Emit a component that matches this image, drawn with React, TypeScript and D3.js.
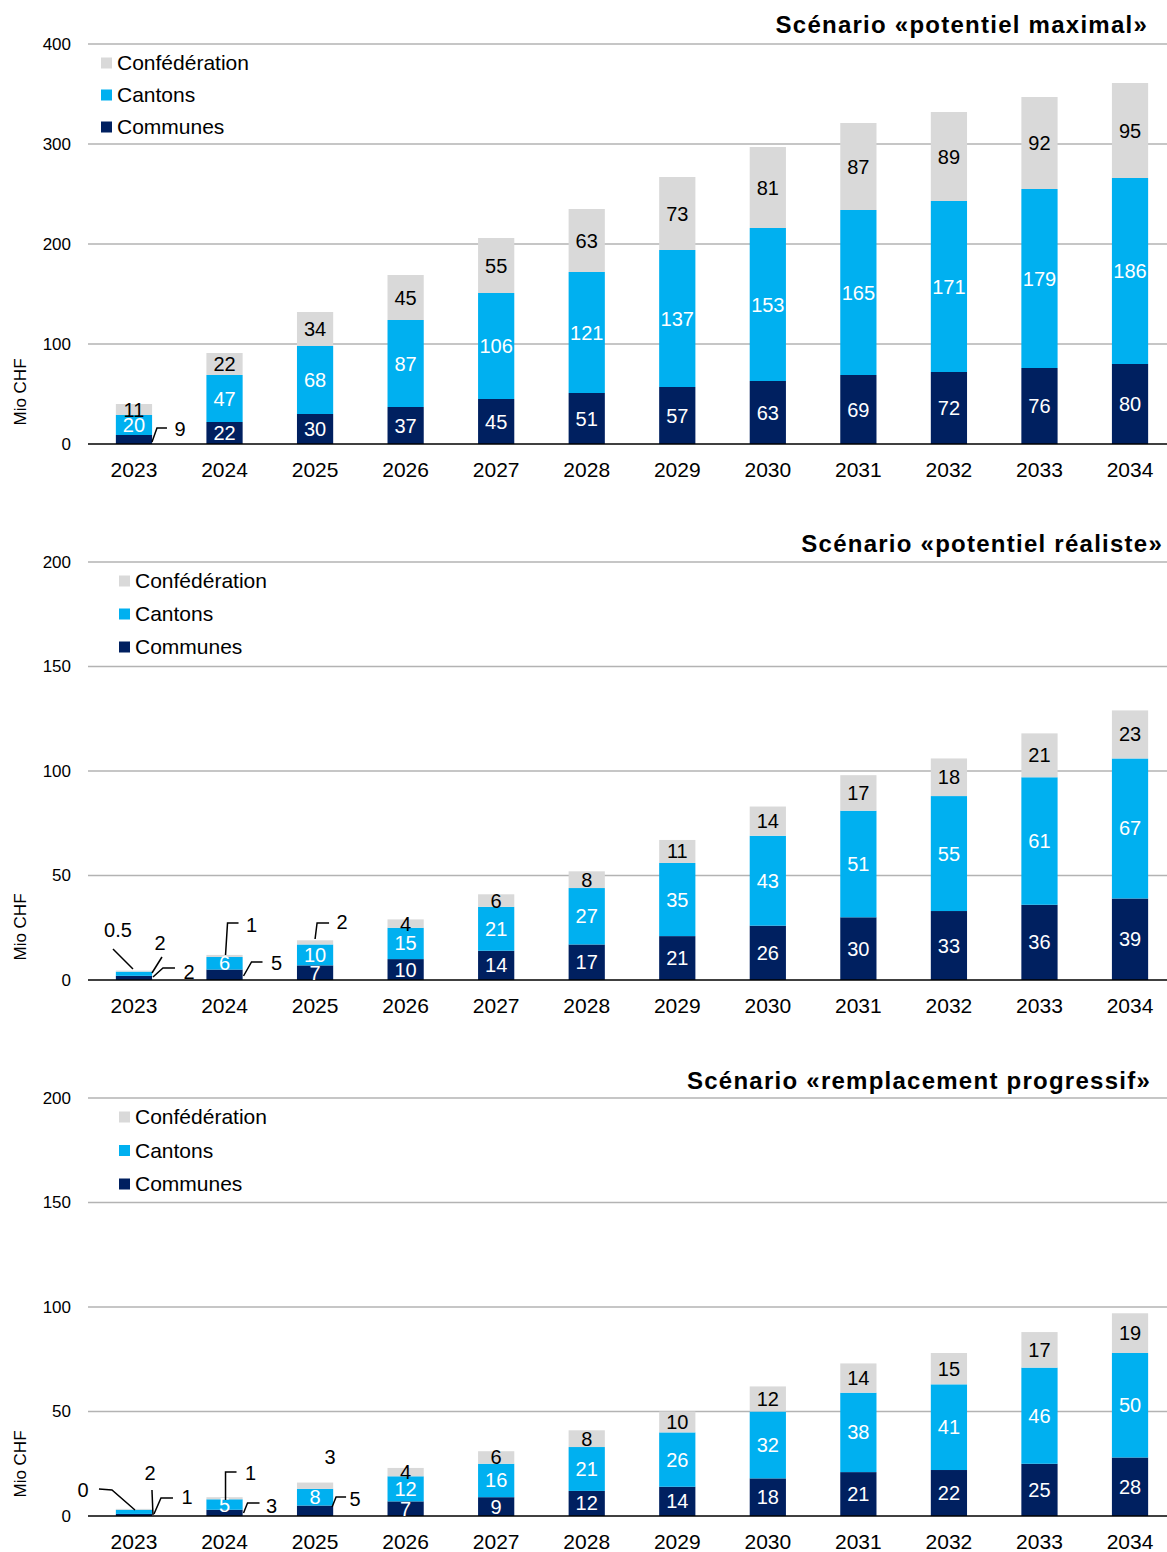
import React from "react";
import * as d3 from "d3";

const years = ["2023", "2024", "2025", "2026", "2027", "2028", "2029", "2030", "2031", "2032", "2033", "2034"];
const seriesNames = ["Confédération", "Cantons", "Communes"];

// Scénario «potentiel maximal»
const maxCommunes = [9, 22, 30, 37, 45, 51, 57, 63, 69, 72, 76, 80];
const maxCantons = [20, 47, 68, 87, 106, 121, 137, 153, 165, 171, 179, 186];
const maxConf = [11, 22, 34, 45, 55, 63, 73, 81, 87, 89, 92, 95];
const maxTicks = [0, 100, 200, 300, 400];

// Scénario «potentiel réaliste»
const realCommunes = [2, 5, 7, 10, 14, 17, 21, 26, 30, 33, 36, 39];
const realCantons = [2, 6, 10, 15, 21, 27, 35, 43, 51, 55, 61, 67];
const realConf = [0.5, 1, 2, 4, 6, 8, 11, 14, 17, 18, 21, 23];
const realTicks = [0, 50, 100, 150, 200];

// Scénario «remplacement progressif»
const progCommunes = [1, 3, 5, 7, 9, 12, 14, 18, 21, 22, 25, 28];
const progCantons = [2, 5, 8, 12, 16, 21, 26, 32, 38, 41, 46, 50];
const progConf = [0.4, 1, 3, 4, 6, 8, 10, 12, 14, 15, 17, 19];
const progTicks = [0, 50, 100, 150, 200];

const COLORS: Record<string, string> = { communes: "#002060", cantons: "#00B0F0", conf: "#D9D9D9" };
const TEXT_COLORS: Record<string, string> = { communes: "#ffffff", cantons: "#ffffff", conf: "#000000" };
const FONT = "'Liberation Sans', Arial, sans-serif";

type Callout = { year: number; key: string; text: [number, number]; path: [number, number][] };

const charts = [
  {
    title: "Scénario «potentiel maximal»",
    communes: maxCommunes, cantons: maxCantons, conf: maxConf, ticks: maxTicks, fmt: "~g",
    y0: 444, y1: 44, titleX: 1148, titleY: 33, legendX: 101, legendY: 63, legendGap: 32, ylabelY: 392,
    callouts: [
      { year: 0, key: "communes", text: [46, -15], path: [[18, -2], [23, -16], [33, -16]] },
    ] as Callout[],
  },
  {
    title: "Scénario «potentiel réaliste»",
    communes: realCommunes, cantons: realCantons, conf: realConf, ticks: realTicks, fmt: "~g",
    y0: 980, y1: 562, titleX: 1163, titleY: 552, legendX: 119, legendY: 581, legendGap: 33, ylabelY: 927,
    callouts: [
      { year: 0, key: "conf", text: [-16, -50], path: [[-21, -31], [-1, -11]] },
      { year: 0, key: "cantons", text: [26, -37], path: [[28, -23], [18, -7]] },
      { year: 0, key: "communes", text: [55, -8], path: [[19, -3], [29, -12], [41, -12]] },
      { year: 1, key: "conf", text: [27, -55], path: [[1, -25], [3, -57], [14, -57]] },
      { year: 1, key: "communes", text: [52, -17], path: [[19, -4], [27, -18], [38, -18]] },
      { year: 2, key: "conf", text: [27, -58], path: [[0, -41], [2, -57], [14, -57]] },
    ] as Callout[],
  },
  {
    title: "Scénario «remplacement progressif»",
    communes: progCommunes, cantons: progCantons, conf: progConf, ticks: progTicks, fmt: ".0f",
    y0: 1516, y1: 1098, titleX: 1151, titleY: 1089, legendX: 119, legendY: 1117, legendGap: 33.5, ylabelY: 1464,
    callouts: [
      { year: 0, key: "conf", text: [-51, -26], path: [[-35, -27], [-22, -26], [1, -6]] },
      { year: 0, key: "cantons", text: [16, -43], path: [[18, -26], [19, -1]] },
      { year: 0, key: "communes", text: [53, -19], path: [[20, -2], [27, -18], [39, -18]] },
      { year: 1, key: "conf", text: [26, -43], path: [[1, -16], [1, -44], [12, -44]] },
      { year: 1, key: "communes", text: [47, -10], path: [[19, -3], [23, -13], [35, -13]] },
      { year: 2, key: "conf", text: [15, -59], path: [] },
      { year: 2, key: "communes", text: [40, -17], path: [[17, -9], [21, -19], [31, -19]] },
    ] as Callout[],
  },
];

const x = d3.scaleBand<string>().domain(years).range([88.7, 1175.3]).paddingInner(0.6).paddingOuter(0.3);
const keys = ["communes", "cantons", "conf"];
const legendKeys = ["conf", "cantons", "communes"];

function Chart({ c }: { c: (typeof charts)[number] }) {
  const y = d3.scaleLinear().domain([0, c.ticks[c.ticks.length - 1]]).range([c.y0, c.y1]);
  const rows = years.map((yr, i) => ({ year: yr, communes: c.communes[i], cantons: c.cantons[i], conf: c.conf[i] }));
  const stack = d3.stack<any>().keys(keys)(rows);
  const fmt = d3.format(c.fmt);
  const line = d3.line();
  const bw = x.bandwidth();
  const isCallout = (i: number, k: string) => c.callouts.some((o) => o.year === i && o.key === k);
  return (
    <g>
      {c.ticks.map((t) => (
        <g key={t}>
          {t !== 0 && <line x1={88} x2={1167} y1={y(t)} y2={y(t)} stroke="#b3b3b3" strokeWidth={1.5} />}
          <text x={71} y={y(t)} dy="0.35em" textAnchor="end" fontSize={17} fill="#000">{t}</text>
        </g>
      ))}
      <text transform={`translate(20,${c.ylabelY}) rotate(-90)`} dy="0.35em" textAnchor="middle" fontSize={17}>Mio CHF</text>
      <text x={c.titleX} y={c.titleY} textAnchor="end" fontSize={24} fontWeight="bold" letterSpacing={1.25}>{c.title}</text>
      {stack.map((s) => (
        <g key={s.key}>
          {s.map((d, i) => (
            <rect key={i} x={x(years[i])} width={bw} y={y(d[1])} height={y(d[0]) - y(d[1])} fill={COLORS[s.key]} />
          ))}
        </g>
      ))}
      <line x1={88} x2={1167} y1={c.y0} y2={c.y0} stroke="#000" strokeWidth={1.5} />
      {stack.map((s) => (
        <g key={"l" + s.key}>
          {s.map((d, i) =>
            isCallout(i, s.key) ? null : (
              <text key={i} x={(x(years[i]) as number) + bw / 2} y={(y(d[0]) + y(d[1])) / 2} dy="0.35em" textAnchor="middle" fontSize={20} fill={TEXT_COLORS[s.key]}>
                {fmt(d.data[s.key])}
              </text>
            )
          )}
        </g>
      ))}
      {c.callouts.map((o, j) => {
        const cx = (x(years[o.year]) as number) + bw / 2;
        const val = (c as any)[o.key][o.year];
        return (
          <g key={"c" + j}>
            {o.path.length > 1 && (
              <path d={line(o.path.map(([dx, dy]) => [cx + dx, c.y0 + dy] as [number, number])) || ""} fill="none" stroke="#000" strokeWidth={1.5} />
            )}
            <text x={cx + o.text[0]} y={c.y0 + o.text[1]} dy="0.35em" textAnchor="middle" fontSize={20} fill="#000">{fmt(val)}</text>
          </g>
        );
      })}
      {years.map((yr) => (
        <text key={yr} x={(x(yr) as number) + bw / 2} y={c.y0 + 26} dy="0.35em" textAnchor="middle" fontSize={21}>{yr}</text>
      ))}
      {legendKeys.map((k, i) => (
        <g key={k} transform={`translate(${c.legendX},${c.legendY + i * c.legendGap})`}>
          <rect x={0} y={-5.5} width={11} height={11} fill={COLORS[k]} />
          <text x={16} y={0} dy="0.35em" fontSize={21}>{seriesNames[i]}</text>
        </g>
      ))}
    </g>
  );
}

export default function App() {
  return (
    <svg width={1167} height={1552} style={{ position: "absolute", left: 0, top: 0, background: "#fff" }} fontFamily={FONT}>
      <rect width={1167} height={1552} fill="#fff" />
      {charts.map((c, i) => (
        <Chart key={i} c={c} />
      ))}
    </svg>
  );
}
